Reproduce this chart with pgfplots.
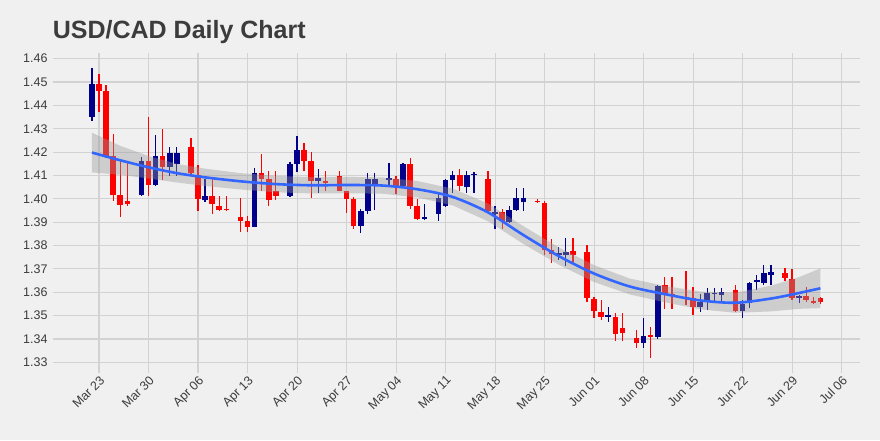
\documentclass[border=0pt]{standalone}
\usepackage{pgfplots}
\pgfplotsset{compat=1.18}
\usepackage{pgfplotstable}
\usepackage{fontspec}
\setmainfont{Liberation Sans}

\definecolor{bgcol}{HTML}{F0F0F0}
\definecolor{gridcol}{HTML}{D2D2D2}
\definecolor{txtcol}{HTML}{3C3C3C}
\definecolor{upcol}{HTML}{00008B}
\definecolor{downcol}{HTML}{FF0000}
\definecolor{fitcol}{HTML}{3366FF}
\definecolor{secol}{HTML}{999999}

% day index: Mar 23 = 0
\pgfplotstableread{
d    o      h      l      c
-1   1.4351 1.4561 1.4334 1.4490
6    1.4015 1.4181 1.4010 1.4160
8    1.4060 1.4273 1.4055 1.4184
10   1.4138 1.4223 1.4096 1.4195
11   1.4150 1.4223 1.4096 1.4195
15   1.3993 1.4086 1.3986 1.4011
22   1.3880 1.4133 1.3878 1.4111
27   1.4011 1.4157 1.4009 1.4147
28   1.4147 1.4269 1.4114 1.4211
31   1.4076 1.4126 1.4026 1.4090
37   1.3883 1.3957 1.3854 1.3947
38   1.3947 1.4111 1.3933 1.4086
39   1.4061 1.4111 1.3951 1.4086
41   1.4084 1.4154 1.4061 1.4088
43   1.4054 1.4154 1.4050 1.4147
46   1.3917 1.3976 1.3909 1.3922
48   1.3937 1.4021 1.3904 1.4004
49   1.3969 1.4083 1.3965 1.4080
50   1.4080 1.4119 1.4026 1.4100
52   1.4051 1.4119 1.4023 1.4104
53   1.4103 1.4114 1.4026 1.4107
56   1.3938 1.3969 1.3869 1.3943
58   1.3900 1.3969 1.3897 1.3954
59   1.3954 1.4047 1.3950 1.4004
60   1.3986 1.4047 1.3947 1.4004
65   1.3764 1.3794 1.3740 1.3767
66   1.3761 1.3833 1.3714 1.3771
72   1.3498 1.3539 1.3471 1.3503
77   1.3381 1.3489 1.3360 1.3414
79   1.3410 1.3631 1.3400 1.3629
85   1.3539 1.3591 1.3514 1.3560
86   1.3560 1.3617 1.3524 1.3596
87   1.3596 1.3617 1.3553 1.3599
88   1.3589 1.3617 1.3553 1.3603
91   1.3521 1.3567 1.3489 1.3549
92   1.3553 1.3646 1.3531 1.3639
93   1.3645 1.3674 1.3610 1.3652
94   1.3639 1.3717 1.3631 1.3681
95   1.3674 1.3717 1.3631 1.3686
99   1.3574 1.3590 1.3553 1.3584
}\upcandles

\pgfplotstableread{
d    o      h      l      c
0    1.4490 1.4533 1.4372 1.4462
1    1.4462 1.4486 1.4175 1.4184
2    1.4184 1.4277 1.3990 1.4018
3    1.4018 1.4160 1.3923 1.3972
4    1.3992 1.4153 1.3970 1.3978
7    1.4162 1.4351 1.4010 1.4060
9    1.4184 1.4299 1.4082 1.4138
13   1.4221 1.4259 1.4100 1.4112
14   1.4100 1.4145 1.3949 1.3998
16   1.4014 1.4083 1.3933 1.3976
17   1.3971 1.4011 1.3947 1.3954
18   1.3957 1.4011 1.3950 1.3952
20   1.3923 1.4004 1.3857 1.3904
21   1.3904 1.3926 1.3857 1.3880
23   1.4111 1.4193 1.4033 1.4083
24   1.4083 1.4119 1.3971 1.3997
25   1.4033 1.4119 1.3997 1.4011
29   1.4211 1.4240 1.4119 1.4161
30   1.4161 1.4200 1.4004 1.4076
32   1.4078 1.4119 1.4033 1.4068
34   1.4097 1.4119 1.4033 1.4033
35   1.4033 1.4033 1.3940 1.4000
36   1.4000 1.4010 1.3871 1.3883
42   1.4086 1.4097 1.4019 1.4054
44   1.4147 1.4176 1.3957 1.3971
45   1.3971 1.4000 1.3910 1.3914
51   1.4100 1.4126 1.4033 1.4054
55   1.4087 1.4119 1.3940 1.3947
57   1.3943 1.3957 1.3869 1.3904
62   1.3992 1.4000 1.3983 1.3988
63   1.3983 1.3990 1.3761 1.3783
64   1.3783 1.3829 1.3726 1.3766
67   1.3776 1.3833 1.3719 1.3759
69   1.3774 1.3803 1.3560 1.3574
70   1.3571 1.3581 1.3489 1.3520
71   1.3514 1.3567 1.3481 1.3496
73   1.3496 1.3510 1.3391 1.3420
74   1.3446 1.3510 1.3391 1.3424
76   1.3403 1.3439 1.3360 1.3381
78   1.3416 1.3453 1.3317 1.3412
80   1.3629 1.3667 1.3529 1.3591
81   1.3593 1.3667 1.3529 1.3589
83   1.3581 1.3689 1.3546 1.3574
84   1.3574 1.3624 1.3503 1.3539
90   1.3610 1.3631 1.3517 1.3521
97   1.3684 1.3703 1.3650 1.3660
98   1.3656 1.3700 1.3567 1.3574
100  1.3584 1.3624 1.3560 1.3567
101  1.3564 1.3581 1.3550 1.3553
102  1.3574 1.3581 1.3550 1.3559
}\downcandles

% loess fit
\pgfplotstableread{
d    fit
-1   1.4198
3    1.4165
7    1.4135
11   1.4110
15   1.4092
20   1.4075
25   1.4063
30   1.4058
35   1.4059
40   1.4057
45   1.4041
50   1.4008
55   1.3942
60   1.3845
65   1.3755
70   1.3680
75   1.3625
80   1.3592
85   1.3565
90   1.3555
95   1.3573
99   1.3597
102  1.3617
}\loess

% confidence band outline: upper edge forward, lower edge back
\pgfplotstableread{
d    y
-1   1.4283
3    1.4227
7    1.4183
11   1.4150
15   1.4129
20   1.4110
25   1.4098
30   1.4093
35   1.4094
40   1.4092
45   1.4076
50   1.4044
55   1.3980
60   1.3883
65   1.3792
70   1.3716
75   1.3659
80   1.3627
85   1.3603
90   1.3598
95   1.3628
99   1.3665
102  1.3702
102  1.3532
99   1.3529
95   1.3518
90   1.3512
85   1.3527
80   1.3557
75   1.3591
70   1.3644
65   1.3718
60   1.3807
55   1.3904
50   1.3972
45   1.4006
40   1.4022
35   1.4024
30   1.4023
25   1.4028
20   1.4040
15   1.4055
11   1.4070
7    1.4087
3    1.4103
-1   1.4113
}\band

\begin{document}
\begin{tikzpicture}
\fill[bgcol] (0,0) rectangle (880pt,440pt);
\node[anchor=base west, text=txtcol, font=\bfseries\fontsize{25}{29}\selectfont, inner sep=0pt]
  at (52.7pt,401.7pt) {USD/CAD Daily Chart};
\begin{axis}[
    at={(52.7pt,66.7pt)}, anchor=south west,
    scale only axis, width=807.3pt, height=320pt,
    xmin=-6.55, xmax=107.6, ymin=1.3253, ymax=1.4623,
    axis line style={draw=none},
    major tick length=0pt,
    grid=major,
    grid style={color=gridcol, line width=1.1pt},
    xtick={0,7,14,21,28,35,42,49,56,63,70,77,84,91,98,105},
    xticklabels={Mar 23,Mar 30,Apr 06,Apr 13,Apr 20,Apr 27,May 04,May 11,
                 May 18,May 25,Jun 01,Jun 08,Jun 15,Jun 22,Jun 29,Jul 06},
    ytick={1.33,1.34,1.35,1.36,1.37,1.38,1.39,1.40,1.41,1.42,1.43,1.44,1.45,1.46},
    yticklabel style={/pgf/number format/fixed, /pgf/number format/fixed zerofill,
                      /pgf/number format/precision=2,
                      /pgf/number format/assume math mode=true},
    tick label style={text=txtcol, font=\fontsize{12.5}{14}\selectfont},
    x tick label style={rotate=45, anchor=north east, inner sep=1pt},
    y tick label style={inner sep=1pt, xshift=-4pt},
]
% wicks
\addplot[draw=none, mark=none, error bars/.cd, y dir=both, y explicit,
    error mark=none, error bar style={draw=upcol, line width=1.3pt}]
    table[x=d, y expr={(\thisrow{h}+\thisrow{l})/2},
          y error expr={(\thisrow{h}-\thisrow{l})/2}] {\upcandles};
\addplot[draw=none, mark=none, error bars/.cd, y dir=both, y explicit,
    error mark=none, error bar style={draw=downcol, line width=1.3pt}]
    table[x=d, y expr={(\thisrow{h}+\thisrow{l})/2},
          y error expr={(\thisrow{h}-\thisrow{l})/2}] {\downcandles};
% bodies
\addplot[draw=none, mark=none, error bars/.cd, y dir=both, y explicit,
    error mark=none, error bar style={draw=upcol, line width=5.6pt}]
    table[x=d, y expr={(\thisrow{o}+\thisrow{c})/2},
          y error expr={abs(\thisrow{c}-\thisrow{o})/2}] {\upcandles};
\addplot[draw=none, mark=none, error bars/.cd, y dir=both, y explicit,
    error mark=none, error bar style={draw=downcol, line width=5.6pt}]
    table[x=d, y expr={(\thisrow{o}+\thisrow{c})/2},
          y error expr={abs(\thisrow{c}-\thisrow{o})/2}] {\downcandles};
% loess band and line
\addplot[fill=secol, fill opacity=0.4, draw=none] table[x=d, y=y] {\band};
\addplot[fitcol, line width=2.6pt, smooth] table[x=d, y=fit] {\loess};
\end{axis}
\end{tikzpicture}
\end{document}
